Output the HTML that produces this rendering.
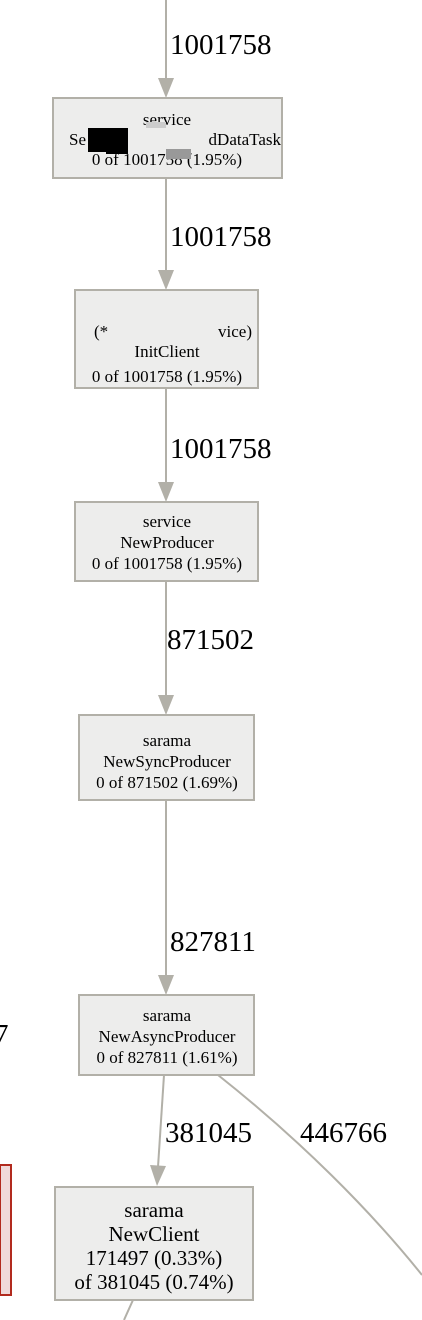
<!DOCTYPE html>
<html><head><style>html,body{margin:0;padding:0;background:#fff}svg{display:block}</style></head>
<body>
<svg width="422" height="1320" viewBox="0 0 422 1320" xmlns="http://www.w3.org/2000/svg" font-family="'Liberation Serif', serif">
<g stroke="#b2b0a8" stroke-width="2" fill="none">
<line x1="166" y1="0" x2="166" y2="80"/>
<line x1="166" y1="178" x2="166" y2="272"/>
<line x1="166" y1="388" x2="166" y2="484"/>
<line x1="166" y1="581" x2="166" y2="697"/>
<line x1="166" y1="800" x2="166" y2="977"/>
<line x1="164" y1="1075" x2="158" y2="1167"/>
<path d="M218 1075 C 300 1140, 370 1210, 422 1275"/>
<line x1="133" y1="1300" x2="124" y2="1320"/>
</g>
<g fill="#b2b0a8">
<polygon points="158,78 174,78 166,98"/>
<polygon points="158,270 174,270 166,290"/>
<polygon points="158,482 174,482 166,502"/>
<polygon points="158,695 174,695 166,715"/>
<polygon points="158,975 174,975 166,995"/>
<polygon points="150,1165 166,1166 157,1186"/>
</g>
<g fill="#ededec" stroke="#b2b0a8" stroke-width="2">
<rect x="53" y="98" width="229" height="80"/>
<rect x="75" y="290" width="183" height="98"/>
<rect x="75" y="502" width="183" height="79"/>
<rect x="79" y="715" width="175" height="85"/>
<rect x="79" y="995" width="175" height="80"/>
<rect x="55" y="1187" width="198" height="113"/>
</g>
<rect x="0" y="1165" width="11" height="130" fill="#f0dada" stroke="#b22a1e" stroke-width="2"/>
<g font-size="17" fill="#000">
<g text-anchor="middle">
<text x="167" y="125">service</text>
<text x="167" y="165">0 of 1001758 (1.95%)</text>
<text x="167" y="357">InitClient</text>
<text x="167" y="382">0 of 1001758 (1.95%)</text>
<text x="167" y="527">service</text>
<text x="167" y="548">NewProducer</text>
<text x="167" y="569">0 of 1001758 (1.95%)</text>
<text x="167" y="746">sarama</text>
<text x="167" y="767">NewSyncProducer</text>
<text x="167" y="788">0 of 871502 (1.69%)</text>
<text x="167" y="1021">sarama</text>
<text x="167" y="1042">NewAsyncProducer</text>
<text x="167" y="1063">0 of 827811 (1.61%)</text>
</g>
<text x="69" y="145">Se</text>
<text x="281" y="145" text-anchor="end">dDataTask</text>
<text x="94" y="337">(*</text>
<text x="252" y="337" text-anchor="end">vice)</text>
</g>
<g font-size="21" text-anchor="middle">
<text x="154" y="1217">sarama</text>
<text x="154" y="1241">NewClient</text>
<text x="154" y="1265">171497 (0.33%)</text>
<text x="154" y="1289">of 381045 (0.74%)</text>
</g>
<rect x="88" y="128" width="40" height="24" fill="#000"/>
<rect x="106" y="140" width="22" height="14" fill="#000"/>
<rect x="146" y="122" width="20" height="6" fill="#ccc"/>
<rect x="166" y="149" width="25" height="10" fill="#999"/>
<g font-size="29">
<text x="170" y="54">1001758</text>
<text x="170" y="246">1001758</text>
<text x="170" y="458">1001758</text>
<text x="167" y="649">871502</text>
<text x="170" y="951">827811</text>
<text x="165" y="1142">381045</text>
<text x="300" y="1142">446766</text>
<text x="-6" y="1044">7</text>
</g>
</svg>
</body></html>
